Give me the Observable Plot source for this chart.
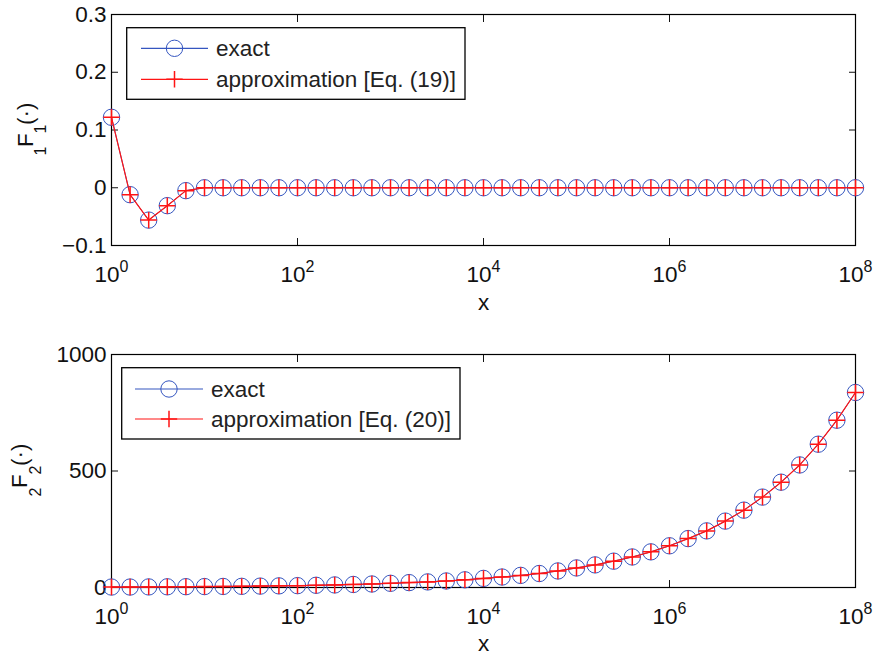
<!DOCTYPE html>
<html><head><meta charset="utf-8">
<script src="https://cdn.jsdelivr.net/npm/d3@7"></script>
<script src="https://cdn.jsdelivr.net/npm/@observablehq/plot@0.6"></script>
<style>
body{margin:0;background:#fff;}
#chart{position:relative;width:875px;height:656px;}
#chart svg{display:block;}
</style></head><body><div id="chart"></div>
<script>
// sample grid (log10 of x)
const xExponents = [0,0.2,0.4,0.6,0.8,1,1.2,1.4,1.6,1.8,2,2.2,2.4,2.6,2.8,3,3.2,3.4,3.6,3.8,4,4.2,4.4,4.6,4.8,5,5.2,5.4,5.6,5.8,6,6.2,6.4,6.6,6.8,7,7.2,7.4,7.6,7.8,8];
// panel 1: 1F1
const f1Exact  = [0.122,-0.012,-0.056,-0.031,-0.005,0,0,0,0,0,0,0,0,0,0,0,0,0,0,0,0,0,0,0,0,0,0,0,0,0,0,0,0,0,0,0,0,0,0,0,0];
const f1Approx = [0.122,-0.012,-0.056,-0.031,-0.005,0,0,0,0,0,0,0,0,0,0,0,0,0,0,0,0,0,0,0,0,0,0,0,0,0,0,0,0,0,0,0,0,0,0,0,0];
// panel 2: 2F2
const f2Exact  = [2,2,2.5,3,3.5,4,4.5,5,6,7,8,9.5,11,13,15,18,21,24,28,33,39,45,52,60,71,84,97,113,131,153,179,210,243,285,332,388,452,526,615,718,837];
const f2Approx = [2,2,2.5,3,3.5,4,4.5,5,6,7,8,9.5,11,13,15,18,21,24,28,33,39,45,52,60,71,84,97,113,131,153,179,210,243,285,332,388,452,526,615,718,837];
// ticks
const xTickExponents = [0,2,4,6,8];
const f1Ticks = [-0.1,0,0.1,0.2,0.3];
const f2Ticks = [0,500,1000];
// names
const exactName = "exact";
const approx1Name = "approximation [Eq. (19)]";
const approx2Name = "approximation [Eq. (20)]";
const xLabel = "x";

const BLUE = "#3556c0", RED = "#ff1414";
const FONT = '"Liberation Sans", Arial, Helvetica, sans-serif';
const plusSymbol = {draw(ctx, size){const r = Math.sqrt(size/Math.PI); ctx.moveTo(-r,0); ctx.lineTo(r,0); ctx.moveTo(0,-r); ctx.lineTo(0,r);}};

function panel(o) {
  const ex = xExponents.map((e,i)=>({x: 10**e, y: o.exact[i]}));
  const ap = xExponents.map((e,i)=>({x: 10**e, y: o.approx[i]}));
  const xT = xTickExponents.map(e=>10**e);
  const svg = Plot.plot({
    width: 875, height: o.height,
    marginLeft: 111, marginRight: 20, marginTop: o.marginTop, marginBottom: o.marginBottom,
    style: {fontFamily: FONT, fontSize: "22px", color: "#111", background: "white", overflow: "visible"},
    x: {type: "log", domain: [1, 1e8]},
    y: {domain: o.yDomain},
    marks: [
      Plot.axisX({anchor: "bottom", ticks: xT, tickSize: -7, tickFormat: () => "", label: null, strokeWidth: 1}),
      Plot.axisX({anchor: "top", ticks: xT, tickSize: -7, tickFormat: () => "", label: null, strokeWidth: 1}),
      Plot.axisY({anchor: "left", ticks: o.yTicks, tickSize: -7, tickFormat: () => "", label: null, strokeWidth: 1}),
      Plot.axisY({anchor: "right", ticks: o.yTicks, tickSize: -7, tickFormat: () => "", label: null, strokeWidth: 1}),
      Plot.axisY({anchor: "left", ticks: o.yTicks, tickSize: 0, tickPadding: 5, tickFormat: o.yFormat, label: null, fontSize: 22.5}),
      Plot.text(xTickExponents, {x: e => 10**e, frameAnchor: "bottom", text: () => "10", dy: 36, dx: -4.5, lineAnchor: "bottom", textAnchor: "middle", fontSize: 22.5}),
      Plot.text(xTickExponents, {x: e => 10**e, frameAnchor: "bottom", text: e => String(e), dy: 26, dx: 8, lineAnchor: "bottom", textAnchor: "start", fontSize: 16}),
      Plot.text([xLabel], {frameAnchor: "bottom", text: d => d, dy: o.xLabelDy, lineAnchor: "bottom", textAnchor: "middle", fontSize: 22.5}),
      // y label pieces: sub, F, sub, (·)
      Plot.text([o.sub], {frameAnchor: "left", text: d => d, rotate: -90, textAnchor: "start", lineAnchor: "bottom", dx: o.subX - 111, dy: 25.5, fontSize: 16}),
      Plot.text(["F"], {frameAnchor: "left", text: d => d, rotate: -90, textAnchor: "start", lineAnchor: "bottom", dx: o.mainX - 111, dy: 17, fontSize: 22.5}),
      Plot.text([o.sub], {frameAnchor: "left", text: d => d, rotate: -90, textAnchor: "start", lineAnchor: "bottom", dx: o.subX - 111, dy: 3.6, fontSize: 16}),
      Plot.text(["(·)"], {frameAnchor: "left", text: d => d, rotate: -90, textAnchor: "start", lineAnchor: "bottom", dx: o.mainX - 111, dy: -5, fontSize: 22.5}),
      Plot.frame({stroke: "black", strokeWidth: 1.2}),
      Plot.line(ex, {x: "x", y: "y", stroke: BLUE, strokeWidth: 1}),
      Plot.dot(ex, {x: "x", y: "y", r: 8.2, stroke: BLUE, strokeWidth: 1, fill: "none"}),
      Plot.line(ap, {x: "x", y: "y", stroke: RED, strokeWidth: 1.2}),
      Plot.dot(ap, {x: "x", y: "y", r: 8.2, symbol: plusSymbol, stroke: RED, strokeWidth: 1.5, fill: "none"})
    ]
  });
  // legend
  const L = o.legend;
  const g = d3.select(svg).append("g").attr("font-family", FONT).attr("font-size", 22.5).attr("text-anchor", "start");
  g.append("rect").attr("x", L.x1).attr("y", L.y1).attr("width", L.x2 - L.x1).attr("height", L.y2 - L.y1)
    .attr("fill", "white").attr("stroke", "black").attr("stroke-width", 1.3);
  const rows = [
    {name: exactName, color: BLUE, y: L.y1 + L.r1, sym: "circle"},
    {name: o.approxName, color: RED, y: L.y1 + L.r2, sym: "plus"}
  ];
  for (const r of rows) {
    g.append("line").attr("x1", L.lx1).attr("x2", L.lx2).attr("y1", r.y).attr("y2", r.y).attr("stroke", r.color).attr("stroke-width", 1.2);
    const mx = (L.lx1 + L.lx2) / 2;
    if (r.sym === "circle") g.append("circle").attr("cx", mx).attr("cy", r.y).attr("r", 8.2).attr("fill", "none").attr("stroke", r.color);
    else g.append("path").attr("d", `M${mx-8.2},${r.y}H${mx+8.2}M${mx},${r.y-8.2}V${r.y+8.2}`).attr("stroke", r.color).attr("stroke-width", 1.5);
    g.append("text").attr("x", L.tx).attr("y", r.y).attr("dy", "0.34em").attr("text-anchor", "start").attr("fill", "#222").text(r.name);
  }
  return svg;
}

const chart = document.getElementById("chart");
chart.appendChild(panel({
  exact: f1Exact, approx: f1Approx, yDomain: [-0.1, 0.3], yTicks: f1Ticks,
  yFormat: d => d === 0 ? "0" : d3.format(".1f")(d),
  height: 330, marginTop: 14, marginBottom: 85, xLabelDy: 64,
  sub: "1", mainX: 32, subX: 45, approxName: approx1Name,
  legend: {x1: 126.7, x2: 465, y1: 27.7, y2: 99.3, r1: 20.6, r2: 51.6, lx1: 141, lx2: 208, tx: 216}
}));
chart.appendChild(panel({
  exact: f2Exact, approx: f2Approx, yDomain: [0, 1000], yTicks: f2Ticks,
  yFormat: d => String(d),
  height: 326, marginTop: 24, marginBottom: 69, xLabelDy: 63,
  sub: "2", mainX: 26, subX: 40, approxName: approx2Name,
  legend: {x1: 121.7, x2: 460, y1: 37.7, y2: 109, r1: 21.3, r2: 51.3, lx1: 135, lx2: 203, tx: 211}
}));
</script></body></html>
